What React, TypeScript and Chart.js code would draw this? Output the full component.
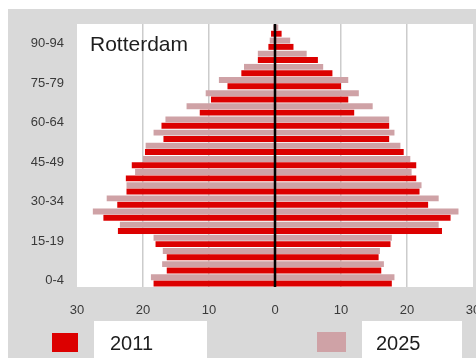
import React, { useEffect, useRef } from 'react';
import { Chart, registerables } from 'chart.js';

Chart.register(...registerables);

// Age groups, bottom to top
const ageGroups = ['0-4', '5-9', '10-14', '15-19', '20-24', '25-29', '30-34', '35-39', '40-44', '45-49',
  '50-54', '55-59', '60-64', '65-69', '70-74', '75-79', '80-84', '85-89', '90-94', '95+'];

// Men (left side), thousands
const male2011 = [18.4, 16.4, 16.4, 18.1, 23.8, 26.0, 23.9, 22.5, 22.6, 21.7, 19.7, 16.9, 17.2, 11.4, 9.7, 7.2, 5.1, 2.6, 1.0, 0.6];
const male2025 = [18.8, 17.1, 17.0, 18.4, 23.5, 27.6, 25.5, 22.5, 21.2, 20.0, 19.6, 18.4, 16.6, 13.4, 10.5, 8.5, 4.7, 2.6, 0.8, 0.3];
// Women (right side)
const female2011 = [17.7, 16.1, 15.7, 17.5, 25.3, 26.6, 23.2, 21.9, 21.4, 21.4, 19.5, 17.3, 17.3, 12.0, 11.1, 10.0, 8.7, 6.5, 2.8, 1.0];
const female2025 = [18.1, 16.5, 15.9, 17.7, 24.8, 27.8, 24.8, 22.2, 20.7, 20.5, 19.0, 18.1, 17.3, 14.8, 12.7, 11.1, 7.3, 4.8, 2.3, 0.5];

const seriesNames = ['2011', '2025'];
const chartTitle = 'Rotterdam';

const RED = '#dc0000';
const PINK = '#cfa2a6';
const FONT = '"Liberation Sans", Arial, sans-serif';

export default function App() {
  const ref = useRef<HTMLCanvasElement>(null);

  useEffect(() => {
    if (!ref.current) return;
    const panelPlugin = {
      id: 'panel',
      beforeDraw(chart: any) {
        const { ctx, chartArea, width, height } = chart;
        ctx.save();
        ctx.fillStyle = '#ffffff';
        ctx.fillRect(0, 0, width, height);
        ctx.fillStyle = '#d9d9d9';
        ctx.fillRect(8, 9, width - 8, height - 9);
        ctx.fillStyle = '#ffffff';
        ctx.fillRect(chartArea.left, chartArea.top, chartArea.right - chartArea.left, chartArea.bottom - chartArea.top);
        ctx.restore();
      },
    };
    const zeroLinePlugin = {
      id: 'zeroLine',
      afterDatasetsDraw(chart: any) {
        const { ctx, chartArea } = chart;
        const x = chart.scales.x.getPixelForValue(0);
        ctx.save();
        ctx.strokeStyle = '#000000';
        ctx.lineWidth = 2.5;
        ctx.beginPath();
        ctx.moveTo(x, chartArea.top);
        ctx.lineTo(x, chartArea.bottom);
        ctx.stroke();
        ctx.restore();
      },
    };

    const chart = new Chart(ref.current, {
      type: 'bar',
      data: {
        labels: ageGroups,
        datasets: [
          { label: seriesNames[1], data: male2025.map((v) => -v), backgroundColor: PINK, stack: 's2025' },
          { label: seriesNames[1], data: female2025, backgroundColor: PINK, stack: 's2025' },
          { label: seriesNames[0], data: male2011.map((v) => -v), backgroundColor: RED, stack: 's2011' },
          { label: seriesNames[0], data: female2011, backgroundColor: RED, stack: 's2011' },
        ],
      },
      options: {
        indexAxis: 'y',
        animation: false,
        responsive: false,
        maintainAspectRatio: false,
        categoryPercentage: 0.96,
        barPercentage: 0.94,
        layout: { padding: { top: 24, right: 3, bottom: 41, left: 0 } },
        plugins: {
          legend: { display: false },
          tooltip: { enabled: false },
          title: { display: false },
        },
        scales: {
          x: {
            stacked: true,
            min: -30,
            max: 30,
            ticks: {
              stepSize: 10,
              callback: (v: any) => String(Math.abs(Number(v))),
              font: { family: FONT, size: 13 },
              color: '#3a3a3a',
              padding: 16,
              maxRotation: 0,
            },
            grid: {
              color: (c: any) =>
                c.tick && (c.tick.value === 0 || Math.abs(c.tick.value) === 30) ? 'rgba(0,0,0,0)' : '#cccccc',
              lineWidth: 1.5,
              drawTicks: false,
            },
            border: { display: false },
            afterFit: (s: any) => {
              s.height = 30;
              s.paddingLeft = 0;
              s.paddingRight = 0;
            },
          },
          y: {
            reverse: true,
            ticks: {
              autoSkip: false,
              callback: (_v: any, i: number) => (i % 3 === 0 ? ageGroups[i] : ''),
              font: { family: FONT, size: 13 },
              color: '#3a3a3a',
              padding: 13,
            },
            grid: { display: false, drawTicks: false },
            border: { display: false },
            afterFit: (s: any) => {
              s.width = 77;
              s.paddingTop = 0;
              s.paddingBottom = 0;
            },
          },
        },
      },
      plugins: [panelPlugin, zeroLinePlugin],
    } as any);
    return () => chart.destroy();
  }, []);

  const textStyle: React.CSSProperties = {
    position: 'absolute',
    fontFamily: FONT,
    color: '#1e1e1e',
    whiteSpace: 'nowrap',
  };

  return (
    <div style={{ position: 'fixed', left: 0, top: 0, width: 476, height: 358, overflow: 'hidden' }}>
      <canvas ref={ref} width={476} height={358} style={{ position: 'absolute', left: 0, top: 0 }} />
      <div style={{ ...textStyle, left: 90, top: 32, fontSize: 21, lineHeight: '24px' }}>{chartTitle}</div>
      <div style={{ position: 'absolute', left: 52, top: 333, width: 26, height: 19, background: RED }} />
      <div style={{ position: 'absolute', left: 94, top: 321, width: 113, height: 37, background: '#ffffff' }} />
      <div style={{ ...textStyle, left: 110, top: 331, fontSize: 20, lineHeight: '24px' }}>{seriesNames[0]}</div>
      <div style={{ position: 'absolute', left: 317, top: 332, width: 29, height: 20, background: PINK }} />
      <div style={{ position: 'absolute', left: 362, top: 321, width: 100, height: 37, background: '#ffffff' }} />
      <div style={{ ...textStyle, left: 376, top: 331, fontSize: 20, lineHeight: '24px' }}>{seriesNames[1]}</div>
    </div>
  );
}
